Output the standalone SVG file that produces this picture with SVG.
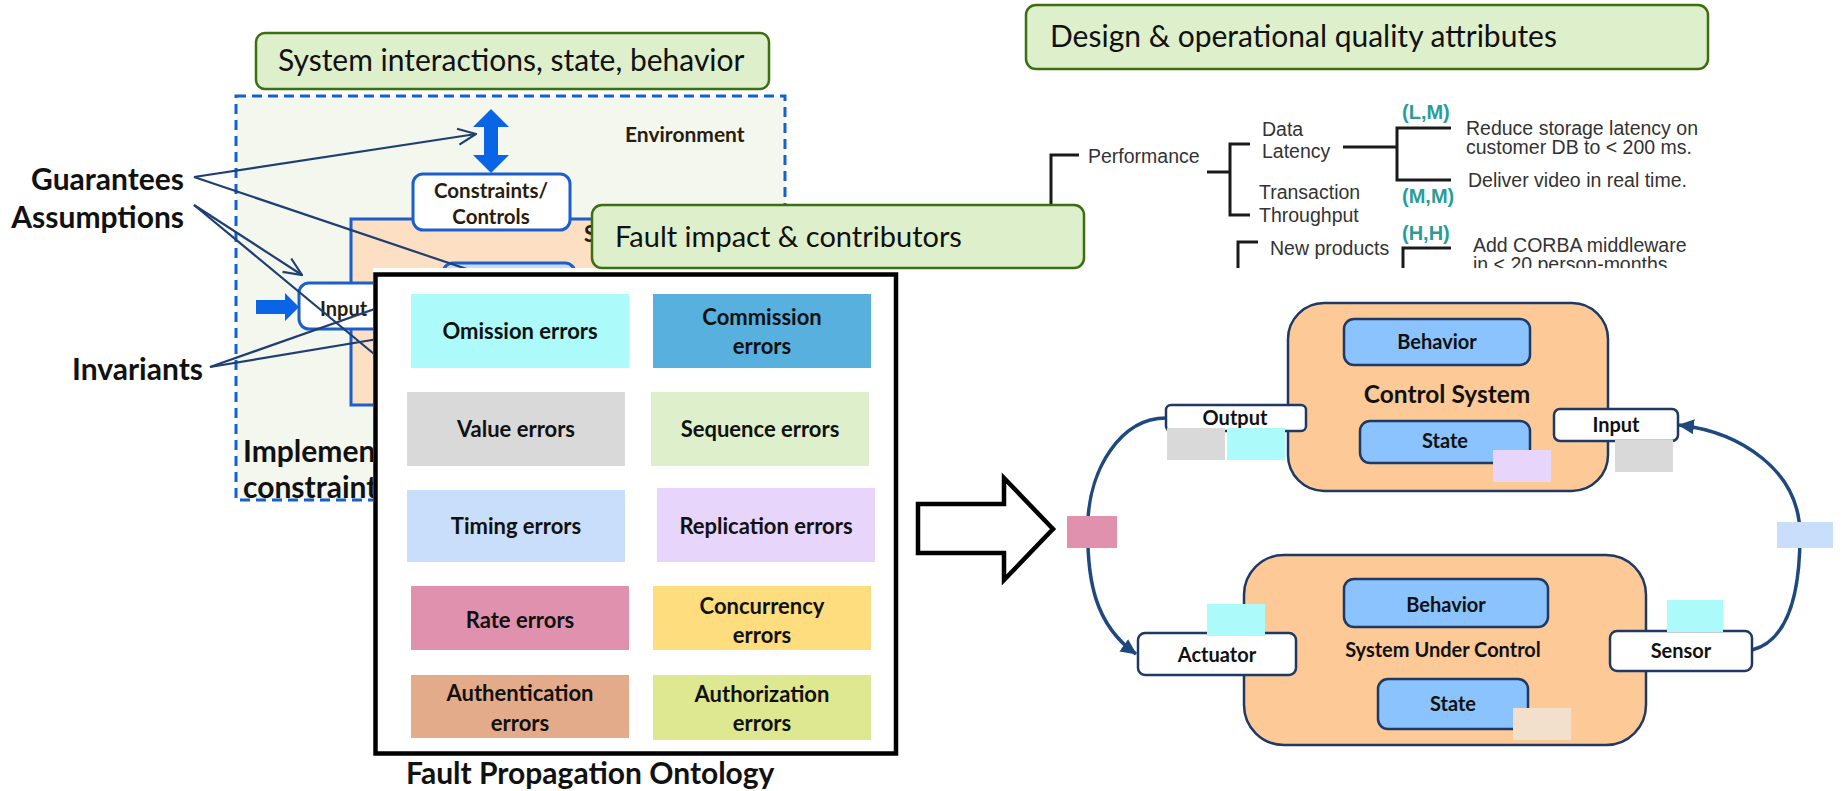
<svg xmlns="http://www.w3.org/2000/svg" width="1843" height="791" viewBox="0 0 1843 791">
  <style>
    .title-box { fill: #DEEFCC; stroke: #3C6E12; stroke-width: 2.5; }
    .title-text { font-family: Lato, "Liberation Sans", sans-serif; font-size: 30px; fill: #111; }
    .label { font-family: Lato, "Liberation Sans", sans-serif; font-weight: 700; font-size: 30px; fill: #111; }
    .env-text { font-family: Lato, "Liberation Sans", sans-serif; font-weight: 700; fill: #2a1c0c; }
    .blue-line { stroke: #1C5FCB; stroke-width: 3; }
    .ann { fill: none; stroke: #1F3F73; stroke-width: 2.2; }
    .err-text { font-family: Lato, "Liberation Sans", sans-serif; font-weight: 700; font-size: 22px; fill: #111; text-anchor: middle; }
    .tree-line { fill: none; stroke: #1a1a1a; stroke-width: 3; }
    .tree-text { font-family: "Liberation Sans", Arial, sans-serif; font-size: 19.5px; fill: #333; }
    .tree-tag { font-family: "Liberation Sans", Arial, sans-serif; font-weight: 700; font-size: 20px; fill: #2B9C98; }
    .sys-box { fill: #FDCA97; stroke: #1F3864; stroke-width: 2.5; }
    .inner-box { fill: #8AC3FD; stroke: #1F3864; stroke-width: 2.5; }
    .port-box { fill: #fff; stroke: #1F3864; stroke-width: 2.5; }
    .box-text { font-family: Lato, "Liberation Sans", sans-serif; font-weight: 700; font-size: 20px; fill: #111; text-anchor: middle; }
    .sys-name { font-size: 24.5px; }
    .loop { fill: none; stroke: #1F497D; stroke-width: 3.5; }
  </style>
  <defs>
    <marker id="openHead" viewBox="0 0 20 20" refX="19" refY="10" markerWidth="20" markerHeight="20" markerUnits="userSpaceOnUse" orient="auto">
      <path d="M1,2 L19,10 L1,18" fill="none" stroke="#1F3F73" stroke-width="2.2"/>
    </marker>
    <marker id="solidHead" viewBox="0 0 16 16" refX="15" refY="8" markerWidth="16" markerHeight="16" markerUnits="userSpaceOnUse" orient="auto">
      <path d="M0,0.5 L16,8 L0,15.5 Z" fill="#1F497D"/>
    </marker>
    <clipPath id="treeClip">
      <rect x="1020" y="80" width="720" height="188"/>
    </clipPath>
  </defs>

  <rect width="1843" height="791" fill="#fff"/>

  <!-- Environment / system context sketch -->
  <g id="environment">
    <rect x="236" y="96" width="549" height="404" fill="#F3F7ED" stroke="#1560D0" stroke-width="3" stroke-dasharray="10 6"/>
    <text class="env-text" x="625" y="142" font-size="21">Environment</text>
    <path d="M491,109 L509,127 L498,127 L498,155 L509,155 L491,173 L473,155 L484,155 L484,127 L473,127 Z" fill="#0A64E6"/>
  </g>

  <g id="system-block">
    <rect x="351" y="219" width="380" height="186" fill="#FDDFC3" class="blue-line"/>
    <text class="env-text" x="584" y="242" font-size="22">S</text>
    <rect x="443" y="263" width="132" height="40" rx="10" fill="#C6DBF5" class="blue-line"/>
  </g>

  <g id="constraints-controls">
    <rect x="413" y="174" width="157" height="56" rx="10" fill="#fff" class="blue-line"/>
    <text class="env-text" x="491" y="198" font-size="20.5" text-anchor="middle">Constraints/</text>
    <text class="env-text" x="491" y="224" font-size="20.5" text-anchor="middle">Controls</text>
  </g>

  <g id="input-port">
    <path d="M256,300 L285,300 L285,293 L299,307 L285,321 L285,314 L256,314 Z" fill="#0A64E6"/>
    <rect x="299" y="283" width="120" height="46" rx="10" fill="#fff" class="blue-line"/>
    <text class="env-text" x="320" y="316" font-size="20">Input</text>
  </g>

  <g id="label-guarantees"><text class="label" x="184" y="190" text-anchor="end">Guarantees</text></g>
  <g id="label-assumptions"><text class="label" x="184" y="228" text-anchor="end">Assumptions</text></g>
  <g id="label-invariants"><text class="label" x="203" y="380" text-anchor="end">Invariants</text></g>
  <g id="label-implementation">
    <text class="label" x="243" y="462">Implementation</text>
    <text class="label" x="243" y="498">constraints</text>
  </g>

  <!-- annotation pointers -->
  <g id="annotation-connectors">
    <path class="ann" d="M194,177 L476,134" marker-end="url(#openHead)"/>
    <path class="ann" d="M194,177 L600,314"/>
    <path class="ann" d="M194,205 L302,275" marker-end="url(#openHead)"/>
    <path class="ann" d="M194,205 L420,392"/>
    <path class="ann" d="M210,367 L420,293"/>
    <path class="ann" d="M210,367 L420,332"/>
  </g>

  <g id="title-system-interactions">
    <rect class="title-box" x="256" y="33" width="513" height="56" rx="9"/>
    <text class="title-text" x="278" y="71">System interactions, state, behavior</text>
  </g>

  <!-- Quality attribute utility tree -->
  <g id="utility-tree" clip-path="url(#treeClip)">
    <path class="tree-line" d="M1051,272 L1051,155 L1079,155"/>
    <text class="tree-text" x="1088" y="163">Performance</text>
    <path class="tree-line" d="M1207,172 L1230,172 M1250,144 L1230,144 L1230,215 L1250,215"/>
    <text class="tree-text" x="1262" y="136">Data</text>
    <text class="tree-text" x="1262" y="158">Latency</text>
    <text class="tree-text" x="1259" y="199">Transaction</text>
    <text class="tree-text" x="1259" y="222">Throughput</text>
    <path class="tree-line" d="M1343,147 L1397,147 M1451,128 L1397,128 L1397,180 L1451,180"/>
    <text class="tree-tag" x="1402" y="119">(L,M)</text>
    <text class="tree-text" x="1466" y="135">Reduce storage latency on</text>
    <text class="tree-text" x="1466" y="154">customer DB to &lt; 200 ms.</text>
    <text class="tree-text" x="1468" y="187">Deliver video in real time.</text>
    <text class="tree-tag" x="1402" y="203">(M,M)</text>
    <text class="tree-tag" x="1402" y="240">(H,H)</text>
    <path class="tree-line" d="M1258,242 L1238,242 L1238,272"/>
    <text class="tree-text" x="1270" y="255">New products</text>
    <path class="tree-line" d="M1451,248 L1403,248 L1403,272"/>
    <text class="tree-text" x="1473" y="252">Add CORBA middleware</text>
    <text class="tree-text" x="1473" y="271">in &lt; 20 person-months</text>
  </g>

  <g id="title-quality">
    <rect class="title-box" x="1026" y="5" width="682" height="64" rx="10"/>
    <text class="title-text" x="1050" y="47">Design &amp; operational quality attributes</text>
  </g>

  <!-- Fault propagation ontology panel -->
  <g id="fault-ontology">
    <rect x="373" y="268" width="527" height="489" fill="#fff"/>
    <rect x="375.5" y="274.5" width="520.5" height="479" fill="#fff" stroke="#000" stroke-width="4.5"/>
    <rect x="411" y="294" width="218" height="74" fill="#ADFAFA"/>
    <text class="err-text" x="520" y="339">Omission errors</text>
    <rect x="653" y="294" width="218" height="74" fill="#57B0DE"/>
    <text class="err-text" x="762" y="325">Commission</text>
    <text class="err-text" x="762" y="354">errors</text>
    <rect x="407" y="392" width="218" height="74" fill="#D9D9D9"/>
    <text class="err-text" x="516" y="437">Value errors</text>
    <rect x="651" y="392" width="218" height="74" fill="#DEEFCB"/>
    <text class="err-text" x="760" y="437">Sequence errors</text>
    <rect x="407" y="490" width="218" height="72" fill="#C9DEFB"/>
    <text class="err-text" x="516" y="534">Timing errors</text>
    <rect x="657" y="488" width="218" height="74" fill="#E8D5FB"/>
    <text class="err-text" x="766" y="534">Replication errors</text>
    <rect x="411" y="586" width="218" height="64" fill="#E091AD"/>
    <text class="err-text" x="520" y="628">Rate errors</text>
    <rect x="653" y="586" width="218" height="64" fill="#FEDD7E"/>
    <text class="err-text" x="762" y="614">Concurrency</text>
    <text class="err-text" x="762" y="643">errors</text>
    <rect x="411" y="675" width="218" height="63" fill="#E3AB8A"/>
    <text class="err-text" x="520" y="701">Authentication</text>
    <text class="err-text" x="520" y="731">errors</text>
    <rect x="653" y="675" width="218" height="65" fill="#DDE890"/>
    <text class="err-text" x="762" y="702">Authorization</text>
    <text class="err-text" x="762" y="731">errors</text>
    <text class="label" x="406" y="784">Fault Propagation Ontology</text>
  </g>

  <g id="title-fault">
    <rect class="title-box" x="592" y="205" width="492" height="63" rx="10"/>
    <text class="title-text" x="615" y="247" style="font-size:29px">Fault impact &amp; contributors</text>
  </g>

  <g id="mapping-arrow">
    <path d="M918,504 L1004,504 L1004,478 L1053,529 L1004,580 L1004,553 L918,553 Z" fill="#fff" stroke="#000" stroke-width="4.5"/>
  </g>

  <!-- Control loop -->
  <g id="loop-connectors">
    <path class="loop" d="M1166,418 C1120,418 1090,470 1088,520 C1086,580 1095,625 1136,654" marker-end="url(#solidHead)"/>
    <path class="loop" d="M1752,650 C1790,640 1800,590 1800,535 C1800,470 1740,432 1679,425" marker-end="url(#solidHead)"/>
  </g>

  <g id="control-system">
    <rect class="sys-box" x="1288" y="303" width="320" height="188" rx="36"/>
    <rect class="inner-box" x="1344" y="319" width="186" height="46" rx="10"/>
    <text class="box-text" x="1437" y="349">Behavior</text>
    <text class="box-text sys-name" x="1447" y="403">Control System</text>
    <rect class="inner-box" x="1360" y="421" width="170" height="42" rx="10"/>
    <text class="box-text" x="1445" y="448">State</text>
  </g>

  <g id="system-under-control">
    <rect class="sys-box" x="1244" y="555" width="402" height="190" rx="40"/>
    <rect class="inner-box" x="1344" y="579" width="204" height="48" rx="10"/>
    <text class="box-text" x="1446" y="612">Behavior</text>
    <text class="box-text" x="1443" y="657">System Under Control</text>
    <rect class="inner-box" x="1378" y="679" width="150" height="50" rx="10"/>
    <text class="box-text" x="1453" y="711">State</text>
  </g>

  <g id="port-output">
    <rect class="port-box" x="1166" y="405" width="140" height="26" rx="5"/>
    <text class="box-text" x="1235" y="425">Output</text>
  </g>
  <g id="port-input">
    <rect class="port-box" x="1554" y="409" width="124" height="32" rx="6"/>
    <text class="box-text" x="1616" y="432">Input</text>
  </g>
  <g id="port-actuator">
    <rect class="port-box" x="1138" y="633" width="158" height="42" rx="7"/>
    <text class="box-text" x="1217" y="662">Actuator</text>
  </g>
  <g id="port-sensor">
    <rect class="port-box" x="1610" y="631" width="142" height="40" rx="7"/>
    <text class="box-text" x="1681" y="658">Sensor</text>
  </g>

  <!-- error-type tags placed on the loop -->
  <g id="error-tags">
    <rect x="1067" y="516" width="50" height="32" fill="#E091AD"/>
    <rect x="1167" y="428" width="58" height="32" fill="#D9D9D9"/>
    <rect x="1227" y="428" width="58" height="32" fill="#ADFAFA"/>
    <rect x="1493" y="450" width="58" height="32" fill="#E8D5FB"/>
    <rect x="1615" y="440" width="58" height="32" fill="#D9D9D9"/>
    <rect x="1777" y="522" width="56" height="26" fill="#C9DEFB"/>
    <rect x="1207" y="604" width="58" height="32" fill="#ADFAFA"/>
    <rect x="1667" y="600" width="56" height="32" fill="#ADFAFA"/>
    <rect x="1513" y="708" width="58" height="32" fill="#F2E0CC"/>
  </g>
</svg>
